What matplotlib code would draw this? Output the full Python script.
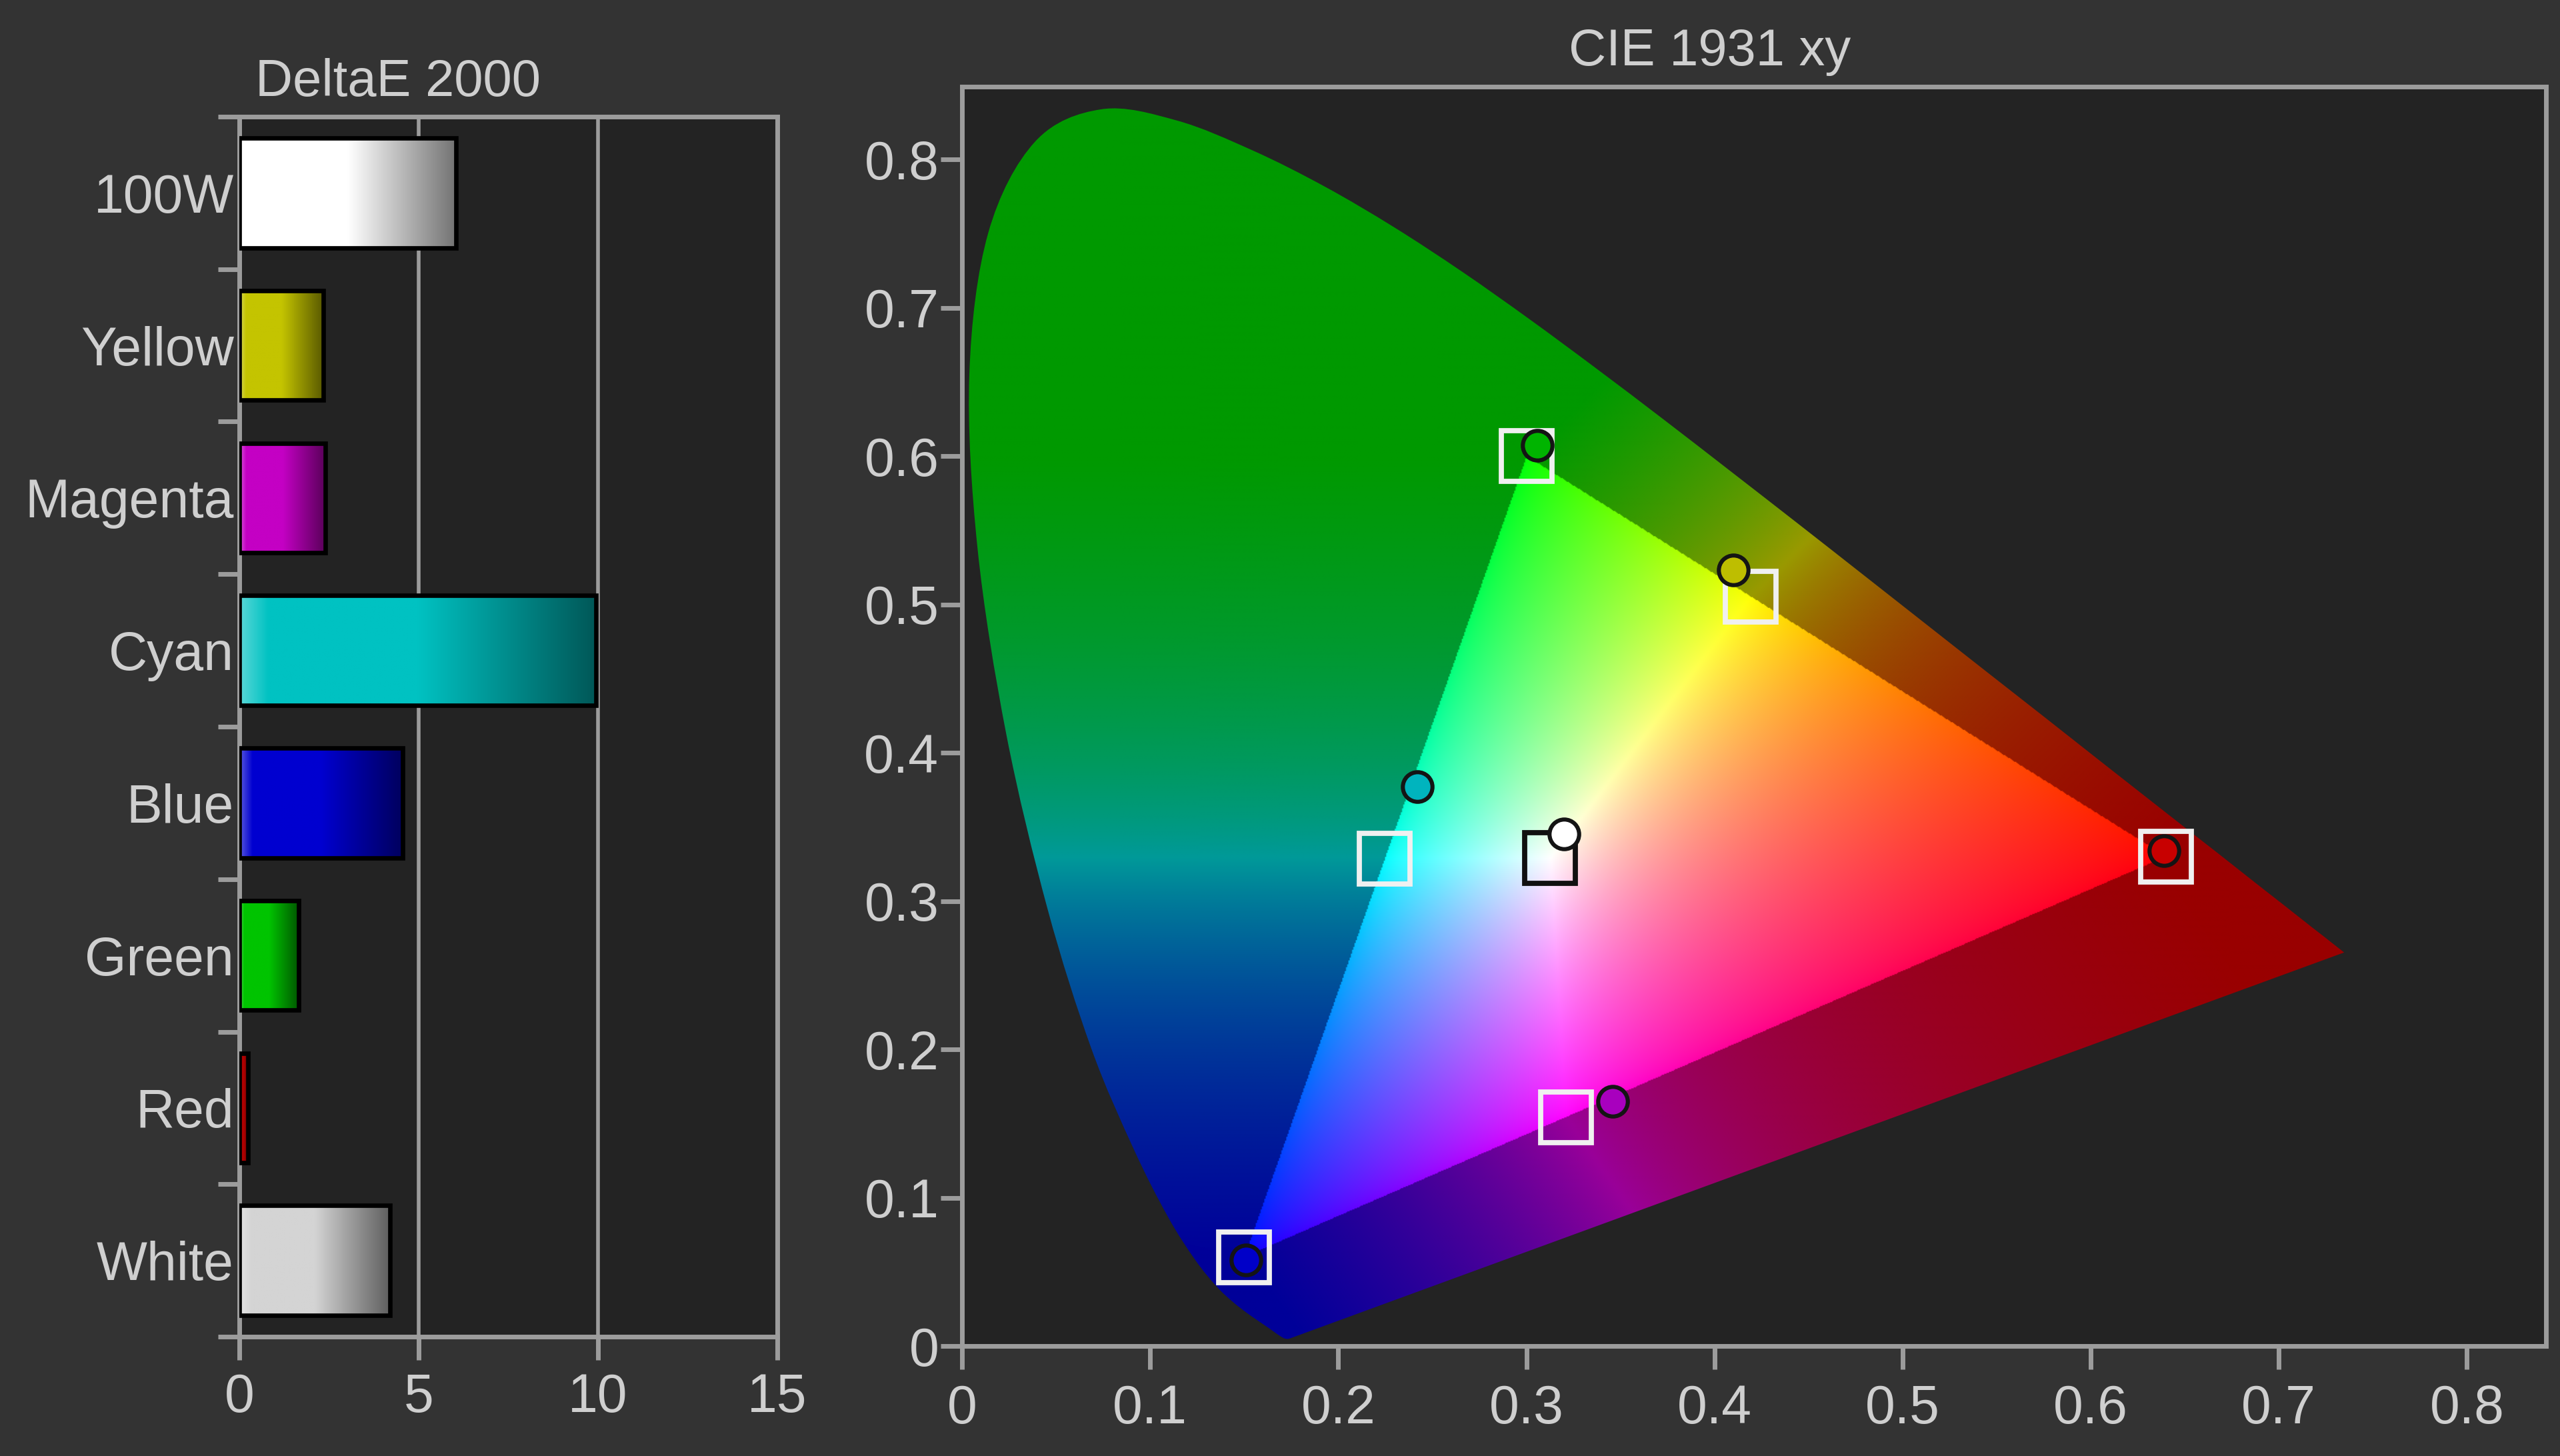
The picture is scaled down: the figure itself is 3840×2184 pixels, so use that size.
import numpy as np
import matplotlib.pyplot as plt
import matplotlib.colors as mcolors
from matplotlib.path import Path
from matplotlib.patches import PathPatch, Rectangle

plt.rcParams['font.family'] = ['Liberation Sans', 'DejaVu Sans']

# DeltaE 2000 per patch
categories = ['100W', 'Yellow', 'Magenta', 'Cyan', 'Blue', 'Green', 'Red', 'White']
delta_e = [6.05, 2.35, 2.4, 9.95, 4.55, 1.65, 0.25, 4.2]
bar_colors = ['#ffffff', '#c4c400', '#c400c4', '#00c2c2', '#0000d0', '#00c400', '#b00000', '#d4d4d4']

# CIE 1931 xy: targets (Rec.709) and measured points
point_names = ['Red', 'Green', 'Blue', 'White', 'Cyan', 'Magenta', 'Yellow']
target_x = [0.640, 0.300, 0.150, 0.3127, 0.2246, 0.3209, 0.4193]
target_y = [0.330, 0.600, 0.060, 0.3290, 0.3287, 0.1542, 0.5053]
meas_x = [0.639, 0.306, 0.151, 0.320, 0.242, 0.346, 0.410]
meas_y = [0.334, 0.607, 0.058, 0.345, 0.377, 0.165, 0.523]
meas_colors = ['#c80000', '#00b400', '#0000c8', '#ffffff', '#00b4be', '#a800be', '#bebe00']
square_edges = ['#f0f0f0', '#f0f0f0', '#f0f0f0', '#101010', '#f0f0f0', '#f0f0f0', '#f0f0f0']

# spectral locus, 380-700 nm
locus_x = [0.1741, 0.1738, 0.1733, 0.1726, 0.1714, 0.1703, 0.1689, 0.1669, 0.1644, 0.1611,
           0.1566, 0.1510, 0.1440, 0.1355, 0.1241, 0.1096, 0.0913, 0.0687, 0.0454, 0.0235,
           0.0082, 0.0039, 0.0139, 0.0389, 0.0743, 0.1142, 0.1547, 0.1929, 0.2296, 0.2658,
           0.3016, 0.3373, 0.3731, 0.4087, 0.4441, 0.4788, 0.5125, 0.5448, 0.5752, 0.6029,
           0.6270, 0.6482, 0.6658, 0.6801, 0.6915, 0.7006, 0.7079, 0.7140, 0.7190, 0.7230,
           0.7260, 0.7283, 0.7300, 0.7320, 0.7347]
locus_y = [0.0050, 0.0049, 0.0048, 0.0048, 0.0051, 0.0058, 0.0069, 0.0086, 0.0109, 0.0138,
           0.0177, 0.0227, 0.0297, 0.0399, 0.0578, 0.0868, 0.1327, 0.2007, 0.2950, 0.4127,
           0.5384, 0.6548, 0.7502, 0.8120, 0.8338, 0.8262, 0.8059, 0.7816, 0.7543, 0.7243,
           0.6923, 0.6589, 0.6245, 0.5896, 0.5547, 0.5202, 0.4866, 0.4544, 0.4242, 0.3965,
           0.3725, 0.3514, 0.3340, 0.3197, 0.3083, 0.2993, 0.2920, 0.2859, 0.2809, 0.2770,
           0.2740, 0.2717, 0.2700, 0.2680, 0.2653]

fig_bg = '#333333'
ax_bg = '#232323'
text_c = '#cfcfcf'
spine_c = '#9c9c9c'
font_size = 29

fig = plt.figure(figsize=(19.2, 10.92), dpi=200, facecolor=fig_bg)

# ---------------- DeltaE bars ----------------
ax1 = fig.add_axes([359/3840, 1-2005/2184, (1166-359)/3840, (2005-175)/2184], facecolor=ax_bg)
h = 0.72
t = np.linspace(0, 1, 256)
fac = np.where(t > 0.5, 1 - (t - 0.5) / 0.5 * 0.55, 1.0)
hl = np.clip((0.08 - t) / 0.08, 0, 1) * 0.35
for i, (v, c) in enumerate(zip(delta_e, bar_colors)):
    base = np.array(mcolors.to_rgb(c))
    row = base[None, :] * fac[:, None]
    row = row + (1 - row) * hl[:, None]
    ax1.imshow(row[None, :, :], extent=(0, v, i + h/2, i - h/2), aspect='auto',
               interpolation='bilinear', zorder=3)
    ax1.add_patch(Rectangle((0, i - h/2), v, h, fill=False, ec='black', lw=2.4, zorder=4))

ax1.set_xlim(0, 15)
ax1.set_ylim(7.5, -0.5)
ax1.set_aspect('auto')
for xv in [5, 10]:
    ax1.axvline(xv, color=spine_c, lw=2.0, zorder=1)
ax1.set_xticks([0, 5, 10, 15])
ax1.set_xticklabels(['0', '5', '10', '15'])
ax1.set_yticks(np.arange(-0.5, 8, 1))
ax1.set_yticklabels([])
ax1.set_yticks(np.arange(8), minor=True)
ax1.set_yticklabels(categories, minor=True)
ax1.tick_params(axis='y', which='major', length=11.5, width=2.5, color=spine_c)
ax1.tick_params(axis='y', which='minor', length=0, pad=3, labelsize=font_size, labelcolor=text_c)
ax1.tick_params(axis='x', length=12.6, width=2.5, color=spine_c, pad=7,
                labelsize=font_size, labelcolor=text_c)
for s in ax1.spines.values():
    s.set_color(spine_c)
    s.set_linewidth(2.5)

fig.text(383/3840, 1-144/2184, 'DeltaE 2000', ha='left', va='baseline',
         fontsize=28, color=text_c)

# ---------------- CIE 1931 xy ----------------
xmax, ymax = 0.842, 0.849
ax2 = fig.add_axes([1443/3840, 1-2019/2184, (3819-1443)/3840, (2019-130)/2184], facecolor=ax_bg)

M = np.array([[3.2406, -1.5372, -0.4986],
              [-0.9689, 1.8758, 0.0415],
              [0.0557, -0.2040, 1.0570]])


def xy_to_rgb(px, py):
    pyc = np.clip(py, 1e-4, None)
    XYZ = np.stack([px / pyc, np.ones_like(px), (1 - px - py) / pyc], axis=-1)
    rgb = np.clip(XYZ @ M.T, 0, None)
    return rgb / np.clip(rgb.max(axis=-1, keepdims=True), 1e-9, None)


def project(P, A, B):
    d = B - A
    s = np.clip(((P - A) @ d) / (d @ d), 0, 1)
    Q = A + s[:, None] * d
    return Q, np.hypot(*(P - Q).T)


nx, ny = 1300, 1300
xs = np.linspace(0, xmax, nx)
ys = np.linspace(0, ymax, ny)
gx, gy = np.meshgrid(xs, ys)
P = np.column_stack([gx.ravel(), gy.ravel()])

pR = np.array([target_x[0], target_y[0]])
pG = np.array([target_x[1], target_y[1]])
pB = np.array([target_x[2], target_y[2]])
inside = Path(np.array([pR, pG, pB])).contains_points(P)

# inside the gamut: full colour
rgb_in = xy_to_rgb(P[:, 0], P[:, 1]) ** 0.7
# outside the gamut: colour of the nearest gamut edge, darkened
q_gr, d_gr = project(P, pG, pR)
q_br, d_br = project(P, pB, pR)
q_gb, d_gb = project(P, pG, pB)
yy = np.clip(P[:, 1], pB[1], pG[1])
q_gbh = np.column_stack([pB[0] + (pG[0] - pB[0]) * (yy - pB[1]) / (pG[1] - pB[1]), yy])
k = np.stack([d_gr, d_br, d_gb], axis=1).argmin(axis=1)
Q = np.where((k == 0)[:, None], q_gr, np.where((k == 1)[:, None], q_br, q_gbh))
rgb_out = xy_to_rgb(Q[:, 0], Q[:, 1]) * 0.6
rgb = np.where(inside[:, None], rgb_in, rgb_out).reshape(ny, nx, 3)

im = ax2.imshow(rgb, extent=(0, xmax, 0, ymax), origin='lower', aspect='auto',
                interpolation='bilinear', zorder=1)

# smooth outline through the spectral locus, closed by the purple line
pts = np.column_stack([locus_x, locus_y])
ext = np.vstack([pts[0], pts, pts[-1]])
verts = [pts[0]]
codes = [Path.MOVETO]
for i in range(1, len(ext) - 2):
    p0, p1, p2, p3 = ext[i - 1], ext[i], ext[i + 1], ext[i + 2]
    verts += [p1 + (p2 - p0) / 6, p2 - (p3 - p1) / 6, p2]
    codes += [Path.CURVE4] * 3
verts += [pts[0], pts[0]]
codes += [Path.LINETO, Path.CLOSEPOLY]
locus = PathPatch(Path(verts, codes), fc='none', ec='none')
ax2.add_patch(locus)
im.set_clip_path(locus)

for tx, ty, ec in zip(target_x, target_y, square_edges):
    ax2.plot(tx, ty, marker='s', ms=27.5, mfc='none', mec=ec, mew=2.8, zorder=5)
for mx, my, mc in zip(meas_x, meas_y, meas_colors):
    ax2.plot(mx, my, marker='o', ms=16, mfc=mc, mec='#141414', mew=2.2, zorder=6)

ax2.set_xlim(0, xmax)
ax2.set_ylim(0, ymax)
ticks = np.arange(0, 0.81, 0.1)
tick_labels = ['0'] + ['%.1f' % v for v in ticks[1:]]
ax2.set_xticks(ticks)
ax2.set_xticklabels(tick_labels)
ax2.set_yticks(ticks)
ax2.set_yticklabels(tick_labels)
ax2.tick_params(axis='x', length=12.6, width=2.5, color=spine_c, pad=8,
                labelsize=font_size, labelcolor=text_c)
ax2.tick_params(axis='y', length=11.5, width=2.5, color=spine_c, pad=1,
                labelsize=font_size, labelcolor=text_c)
for s in ax2.spines.values():
    s.set_color(spine_c)
    s.set_linewidth(2.5)

fig.text(2353/3840, 1-98/2184, 'CIE 1931 xy', ha='left', va='baseline',
         fontsize=28, color=text_c)

plt.savefig('out.png', dpi=200, facecolor=fig_bg)
